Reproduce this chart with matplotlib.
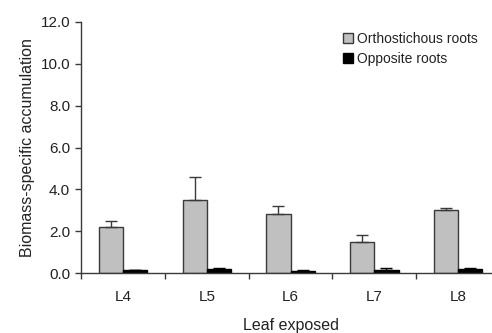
import numpy as np
import matplotlib
matplotlib.use("Agg")
import matplotlib.pyplot as plt

leaves = ["L4", "L5", "L6", "L7", "L8"]
ortho = [2.2, 3.5, 2.8, 1.5, 3.0]
ortho_err = [0.3, 1.1, 0.4, 0.3, 0.1]
opp = [0.13, 0.19, 0.12, 0.17, 0.2]
opp_err = [0.03, 0.04, 0.03, 0.07, 0.05]
yticks = [0.0, 2.0, 4.0, 6.0, 8.0, 10.0, 12.0]

plt.rcParams['font.family'] = ['Liberation Sans', 'DejaVu Sans']
fig = plt.figure(figsize=(4.92, 3.33), dpi=100)
ax = fig.add_axes([0.165, 0.18, 0.851, 0.754])

x = np.arange(len(leaves))
w = 0.29
ax.bar(x - w / 2, ortho, w, color="#c0c0c0", edgecolor="#3a3a3a", linewidth=1.0,
       yerr=[np.zeros(len(ortho)), ortho_err], capsize=4,
       error_kw=dict(ecolor="#3a3a3a", elinewidth=1.0, capthick=1.0),
       label="Orthostichous roots")
ax.bar(x + w / 2, opp, w, color="black", edgecolor="black", linewidth=1.0,
       yerr=[np.zeros(len(opp)), opp_err], capsize=4,
       error_kw=dict(ecolor="black", elinewidth=1.0, capthick=1.0),
       label="Opposite roots")

ax.set_xlim(-0.5, 4.5)
ax.set_ylim(0, 12)
ax.set_yticks(yticks)
ax.set_yticklabels([f"{v:.1f}" for v in yticks], fontsize=11, color="#222222")
ax.set_xticks(x)
ax.set_xticklabels(leaves, fontsize=11, color="#222222")
ax.tick_params(axis="x", which="major", length=0, pad=12)
ax.set_xticks(np.arange(-0.5, 5.0, 1.0), minor=True)
ax.tick_params(axis="x", which="minor", length=4, width=1.0, color="#3a3a3a", direction="out")
ax.tick_params(axis="y", length=4, width=1.0, color="#3a3a3a", direction="out", pad=4)

for s in ["top", "right"]:
    ax.spines[s].set_visible(False)
for s in ["left", "bottom"]:
    ax.spines[s].set_color("#3a3a3a")
    ax.spines[s].set_linewidth(1.0)

ax.set_xlabel("Leaf exposed", fontsize=11.5, color="#222222", labelpad=10)
ax.set_ylabel("Biomass-specific accumulation", fontsize=11.5, color="#222222", labelpad=4)

leg = fig.legend(loc="upper left", bbox_to_anchor=(340 / 492, 1 - 29 / 333), frameon=False,
                 fontsize=10, handlelength=0.7, handleheight=0.7, handletextpad=0.35,
                 labelspacing=0.45, borderaxespad=0, borderpad=0.2)
for t in leg.get_texts():
    t.set_color("#222222")

fig.savefig("out.png", dpi=100)
